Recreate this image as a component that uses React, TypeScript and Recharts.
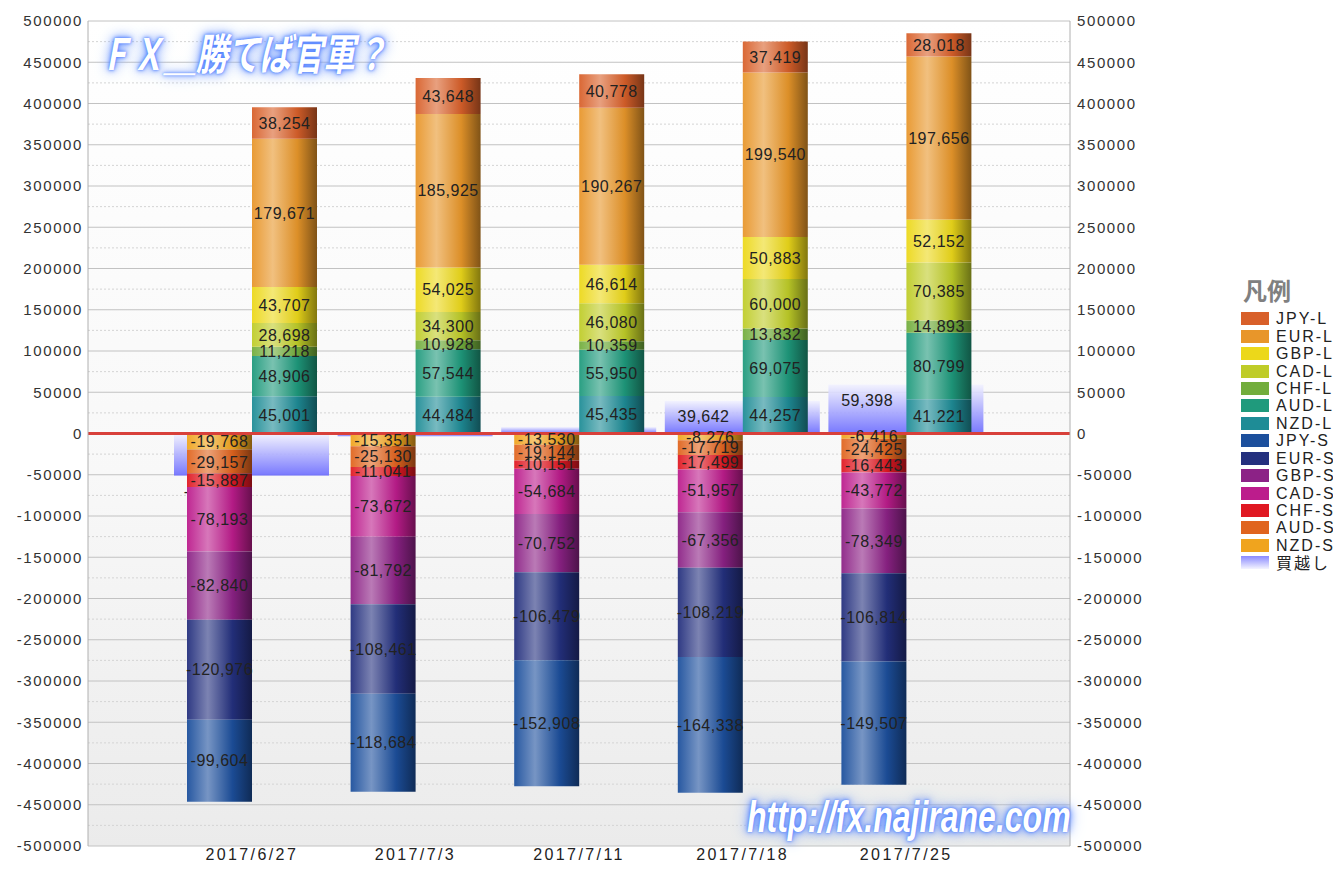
import React from 'react';
import { ComposedChart, Bar, XAxis, YAxis, CartesianGrid, ReferenceLine, LabelList } from 'recharts';

// weekly positions, longs positive / shorts negative
const dates = ['2017/6/27', '2017/7/3', '2017/7/11', '2017/7/18', '2017/7/25'];

const jpyL = [38254, 43648, 40778, 37419, 28018];
const eurL = [179671, 185925, 190267, 199540, 197656];
const gbpL = [43707, 54025, 46614, 50883, 52152];
const cadL = [28698, 34300, 46080, 60000, 70385];
const chfL = [11218, 10928, 10359, 13832, 14893];
const audL = [48906, 57544, 55950, 69075, 80799];
const nzdL = [45001, 44484, 45435, 44257, 41221];

const jpyS = [-99604, -118684, -152908, -164338, -149507];
const eurS = [-120976, -108461, -106479, -108219, -106814];
const gbpS = [-82840, -81792, -70752, -67356, -78349];
const cadS = [-78193, -73672, -54684, -51957, -43772];
const chfS = [-15887, -11041, -10151, -17499, -16443];
const audS = [-29157, -25130, -19144, -17719, -24425];
const nzdS = [-19768, -15351, -13530, -8276, -6416];

const netLong = [-50970, -3277, 7835, 39642, 59398];

// every 25000: even index = labelled solid line, odd index = dotted line
const yTicks = Array.from({ length: 41 }, (_, i) => -500000 + i * 25000);

// stacking order: first entry sits next to zero
const shortSeries = [
  { key: 'nzdS', name: 'NZD-S', values: nzdS, color: '#f0a41e' },
  { key: 'audS', name: 'AUD-S', values: audS, color: '#e0641e' },
  { key: 'chfS', name: 'CHF-S', values: chfS, color: '#e01822' },
  { key: 'cadS', name: 'CAD-S', values: cadS, color: '#bc1c8c' },
  { key: 'gbpS', name: 'GBP-S', values: gbpS, color: '#8c2286' },
  { key: 'eurS', name: 'EUR-S', values: eurS, color: '#24307e' },
  { key: 'jpyS', name: 'JPY-S', values: jpyS, color: '#1c4f9c' },
];

const longSeries = [
  { key: 'nzdL', name: 'NZD-L', values: nzdL, color: '#1e8c96' },
  { key: 'audL', name: 'AUD-L', values: audL, color: '#1f9a7c' },
  { key: 'chfL', name: 'CHF-L', values: chfL, color: '#72ad3c' },
  { key: 'cadL', name: 'CAD-L', values: cadL, color: '#bfcc28' },
  { key: 'gbpL', name: 'GBP-L', values: gbpL, color: '#ecd81a' },
  { key: 'eurL', name: 'EUR-L', values: eurL, color: '#e8962a' },
  { key: 'jpyL', name: 'JPY-L', values: jpyL, color: '#d8602a' },
];

const legendItems = [...[...longSeries].reverse(), ...[...shortSeries].reverse()];

const chartData = dates.map((date, i) => {
  const row: Record<string, any> = { date, net: netLong[i] };
  [...longSeries, ...shortSeries].forEach((s) => {
    row[s.key] = s.values[i];
  });
  return row;
});

const FONT = '"Liberation Sans", Arial, "Noto Sans CJK JP", sans-serif';
const JP_FONT = '"Noto Sans CJK JP", sans-serif';

const fmt = (v: any) => {
  const n = Number(v ?? 0);
  return (n < 0 ? '-' : '') + Math.abs(n).toLocaleString('en-US');
};

const tickFmt = (v: any) => (Math.round(Number(v)) % 50000 === 0 ? String(v) : '');

const shade = (hex: string, amt: number) => {
  const n = parseInt(hex.slice(1), 16);
  const ch = [(n >> 16) & 255, (n >> 8) & 255, n & 255].map((c) =>
    Math.round(amt >= 0 ? c + (255 - c) * amt : c * (1 + amt)),
  );
  return `rgb(${ch[0]},${ch[1]},${ch[2]})`;
};

// net bar drawn with its label inside the bar layer, so the stacks cover it
const NetShape = (props: any) => {
  const { x, y, width, height, payload } = props;
  const value = payload ? payload.net : 0;
  const top = Math.min(y, y + height);
  const h = Math.abs(height);
  const end = value >= 0 ? top : top + h;
  return (
    <g>
      <rect x={x} y={top} width={width} height={h} fill="url(#g-net)" />
      <text
        x={x + width / 4}
        y={end + 16}
        textAnchor="middle"
        dominantBaseline="central"
        fill="#222"
        fontSize={16}
        letterSpacing={0.5}
        fontFamily={FONT}
      >
        {fmt(value)}
      </text>
    </g>
  );
};

const GridLine = (props: any) => {
  const { x1, y1, x2, y2, index } = props;
  const minor = index % 2 === 1;
  return (
    <line
      x1={x1}
      y1={y1}
      x2={x2}
      y2={y2}
      stroke={minor ? '#d4d4d4' : '#c2c2c2'}
      strokeWidth={1}
      strokeDasharray={minor ? '2 2' : undefined}
    />
  );
};

const glow = '0 0 2px #4d7dff, 0 0 5px #4d7dff, 0 0 9px #7fa4ff, 0 0 14px #a8c2ff';

const axisTick = { fontSize: 15, fill: '#333', letterSpacing: 1.6, fontFamily: FONT };

export default function App() {
  return (
    <div style={{ position: 'relative', width: 1325, height: 856, fontFamily: FONT }}>
      <ComposedChart
        width={1142}
        height={856}
        data={chartData}
        margin={{ top: 13, right: 0, bottom: 0, left: 0 }}
        barGap={0}
      >
        <defs>
          <linearGradient id="plotBg" x1="0" y1="0" x2="0" y2="1">
            <stop offset="0%" stopColor="#ffffff" />
            <stop offset="55%" stopColor="#f8f8f8" />
            <stop offset="100%" stopColor="#ebebeb" />
          </linearGradient>
          <linearGradient id="g-net" x1="0" y1="0" x2="0" y2="1">
            <stop offset="0%" stopColor="#f2f2ff" stopOpacity={0.9} />
            <stop offset="100%" stopColor="#6a6aff" stopOpacity={0.9} />
          </linearGradient>
          {[...longSeries, ...shortSeries].map((s) => (
            <linearGradient key={s.key} id={`g-${s.key}`} x1="0" y1="0" x2="1" y2="0">
              <stop offset="0%" stopColor={shade(s.color, 0.05)} />
              <stop offset="32%" stopColor={shade(s.color, 0.4)} />
              <stop offset="70%" stopColor={shade(s.color, -0.05)} />
              <stop offset="100%" stopColor={shade(s.color, -0.45)} />
            </linearGradient>
          ))}
        </defs>

        <CartesianGrid
          yAxisId="left"
          vertical={false}
          horizontal={GridLine}
          fill="url(#plotBg)"
          fillOpacity={1}
        />

        <XAxis
          dataKey="date"
          padding={{ left: 82, right: 82 }}
          tickLine={false}
          axisLine={false}
          tickSize={0}
          tickMargin={3}
          height={18}
          tick={{ fontSize: 16, fill: '#222', letterSpacing: 2.4, fontFamily: FONT }}
        />
        <XAxis xAxisId="net" dataKey="date" padding={{ left: 82, right: 82 }} hide />
        <YAxis
          yAxisId="left"
          width={80}
          domain={[-500000, 500000]}
          allowDataOverflow
          ticks={yTicks}
          interval={0}
          tickFormatter={tickFmt}
          tickLine={false}
          tickSize={0}
          tickMargin={5}
          axisLine={{ stroke: '#b0b0b0' }}
          tick={axisTick}
        />
        <YAxis
          yAxisId="right"
          orientation="right"
          width={80}
          domain={[-500000, 500000]}
          allowDataOverflow
          ticks={yTicks}
          interval={0}
          tickFormatter={tickFmt}
          tickLine={false}
          tickSize={0}
          tickMargin={7}
          axisLine={{ stroke: '#b0b0b0' }}
          tick={axisTick}
        />

        <Bar
          xAxisId="net"
          yAxisId="right"
          dataKey="net"
          name="買越し"
          barSize={155}
          fill="url(#g-net)"
          shape={NetShape}
          isAnimationActive={false}
        />

        {shortSeries.map((s) => (
          <Bar
            key={s.key}
            yAxisId="left"
            dataKey={s.key}
            name={s.name}
            stackId="short"
            barSize={65}
            fill={`url(#g-${s.key})`}
            isAnimationActive={false}
          >
            <LabelList
              dataKey={s.key}
              position="center"
              formatter={fmt}
              fill="#222"
              fontSize={16}
              letterSpacing={0.5}
              fontFamily={FONT}
            />
          </Bar>
        ))}

        {longSeries.map((s) => (
          <Bar
            key={s.key}
            yAxisId="left"
            dataKey={s.key}
            name={s.name}
            stackId="long"
            barSize={65}
            fill={`url(#g-${s.key})`}
            isAnimationActive={false}
          >
            <LabelList
              dataKey={s.key}
              position="center"
              formatter={fmt}
              fill="#222"
              fontSize={16}
              letterSpacing={0.5}
              fontFamily={FONT}
            />
          </Bar>
        ))}

        <ReferenceLine yAxisId="left" y={0} stroke="#d8403a" strokeWidth={3} />
      </ComposedChart>

      <div
        style={{
          position: 'absolute',
          left: 92,
          top: 21,
          fontSize: 32,
          lineHeight: 1,
          fontWeight: 'bold',
          fontStyle: 'italic',
          color: '#ffffff',
          textShadow: glow,
          transform: 'scaleY(1.35)',
          transformOrigin: 'top left',
          whiteSpace: 'nowrap',
          fontFamily: JP_FONT,
        }}
      >
        ＦＸ＿勝てば官軍？
      </div>

      <div
        style={{
          position: 'absolute',
          left: 739,
          top: 786,
          fontSize: 32,
          lineHeight: 1,
          fontWeight: 'bold',
          fontStyle: 'italic',
          color: '#ffffff',
          textShadow: glow,
          transform: 'scaleY(1.4)',
          transformOrigin: 'top left',
          whiteSpace: 'nowrap',
          fontFamily: FONT,
        }}
      >
        http://fx.najirane.com
      </div>

      <div style={{ position: 'absolute', left: 1233, top: 268, whiteSpace: 'nowrap', width: 100 }}>
        <div
          style={{
            fontSize: 24,
            fontWeight: 'bold',
            color: '#808080',
            lineHeight: '28px',
            marginLeft: 2,
            marginBottom: 6,
            fontFamily: JP_FONT,
          }}
        >
          凡例
        </div>
        {legendItems.map((s) => (
          <div key={s.key} style={{ display: 'flex', alignItems: 'center', height: 17.45 }}>
            <div style={{ width: 28, height: 13, flex: 'none', background: s.color, marginRight: 7 }} />
            <span style={{ fontSize: 16, lineHeight: '17px', color: '#222', letterSpacing: 2 }}>{s.name}</span>
          </div>
        ))}
        <div style={{ display: 'flex', alignItems: 'center', height: 17.45 }}>
          <div
            style={{
              width: 28,
              height: 13,
              flex: 'none',
              background: 'linear-gradient(to bottom, #8a8aff, #f4f4ff)',
              marginRight: 7,
            }}
          />
          <span style={{ fontSize: 16, lineHeight: '17px', color: '#222', letterSpacing: 2, fontFamily: JP_FONT }}>
            買越し
          </span>
        </div>
      </div>
    </div>
  );
}
